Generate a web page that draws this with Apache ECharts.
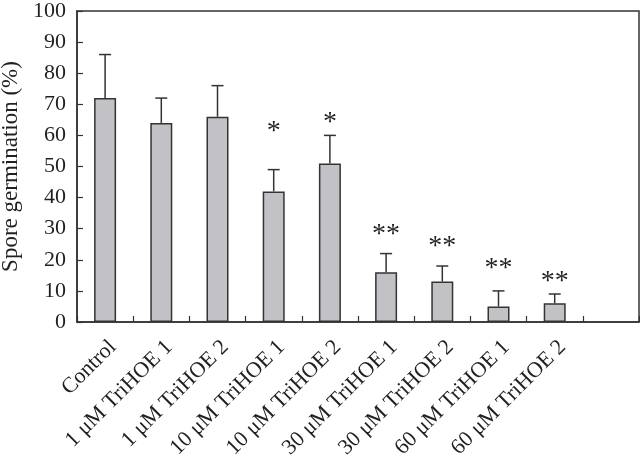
<!DOCTYPE html>
<html>
<head>
<meta charset="utf-8">
<script src="https://cdn.jsdelivr.net/npm/echarts@6/dist/echarts.min.js"></script>
<style>
html,body{margin:0;padding:0;background:#fff;}
#chart{width:640px;height:459px;}
</style>
</head>
<body>
<div id="chart"></div>
<script>
const categories = ['Control', '1 μM TriHOE 1', '1 μM TriHOE 2', '10 μM TriHOE 1', '10 μM TriHOE 2',
  '30 μM TriHOE 1', '30 μM TriHOE 2', '60 μM TriHOE 1', '60 μM TriHOE 2', ''];
const means = [72, 64, 66, 42, 51, 16, 13, 5, 6];
const errorTops = [86, 72, 76, 49, 60, 22, 18, 10, 9];
const starLabels = ['', '', '', '*', '*', '**', '**', '**', '**'];
const starLevels = [null, null, null, 63, 66, 30, 26, 19, 15];
const yTicks = [0, 10, 20, 30, 40, 50, 60, 70, 80, 90, 100];

const FONT = 'Liberation Serif';
const TXT = '#231f20';
const LINE = '#333333';

const chart = echarts.init(document.getElementById('chart'), null, {renderer: 'canvas'});

const errData = means.map((m, i) => [i, m, errorTops[i]]);
const starData = [];
starLabels.forEach((s, i) => { if (s) starData.push([i, starLevels[i], s]); });

chart.setOption({
  animation: false,
  backgroundColor: '#fff',
  grid: {left: 77, right: 1, top: 11, bottom: 137, containLabel: false, outerBoundsMode: 'none',
    show: true, borderColor: LINE, borderWidth: 1.5, backgroundColor: 'transparent'},
  xAxis: {
    type: 'category',
    data: categories,
    boundaryGap: true,
    axisLine: {show: true, lineStyle: {color: LINE, width: 1.5}},
    axisTick: {show: true, inside: true, length: 6, lineStyle: {color: LINE, width: 1.2}},
    axisLabel: {interval: 0, rotate: 45, margin: 14, verticalAlign: 'top', fontFamily: FONT, fontSize: 22, color: TXT},
    splitLine: {show: false}
  },
  yAxis: {
    type: 'value',
    min: yTicks[0], max: yTicks[yTicks.length - 1], interval: 10,
    name: 'Spore germination (%)',
    nameLocation: 'middle',
    nameGap: 55,
    nameTextStyle: {fontFamily: FONT, fontSize: 23, color: TXT},
    axisLine: {show: true, lineStyle: {color: LINE, width: 1.5}},
    axisTick: {show: true, inside: true, length: 6, lineStyle: {color: LINE, width: 1.2}},
    axisLabel: {margin: 11, fontFamily: FONT, fontSize: 22, color: TXT},
    splitLine: {show: false}
  },
  series: [
    {
      type: 'bar',
      data: means,
      barWidth: 22,
      itemStyle: {color: '#c2c2c6', borderColor: LINE, borderWidth: 1.5},
      z: 2
    },
    {
      type: 'custom',
      data: errData,
      z: 3,
      renderItem: function (params, api) {
        const x = api.value(0);
        const p0 = api.coord([x, api.value(1)]);
        const p1 = api.coord([x, api.value(2)]);
        const hw = 6;
        return {
          type: 'group',
          children: [
            {type: 'line', shape: {x1: p0[0], y1: p0[1], x2: p1[0], y2: p1[1]}, style: {stroke: LINE, lineWidth: 1.5}},
            {type: 'line', shape: {x1: p1[0] - hw, y1: p1[1], x2: p1[0] + hw, y2: p1[1]}, style: {stroke: LINE, lineWidth: 1.5}}
          ]
        };
      }
    },
    {
      type: 'custom',
      data: starData,
      z: 4,
      renderItem: function (params, api) {
        const p = api.coord([api.value(0), api.value(1)]);
        return {
          type: 'text',
          x: p[0], y: p[1] + 6,
          style: {text: starData[params.dataIndex][2], fontFamily: FONT, fontSize: 28, fill: TXT, align: 'center', verticalAlign: 'middle'}
        };
      }
    }
  ]
});
</script>
</body>
</html>
